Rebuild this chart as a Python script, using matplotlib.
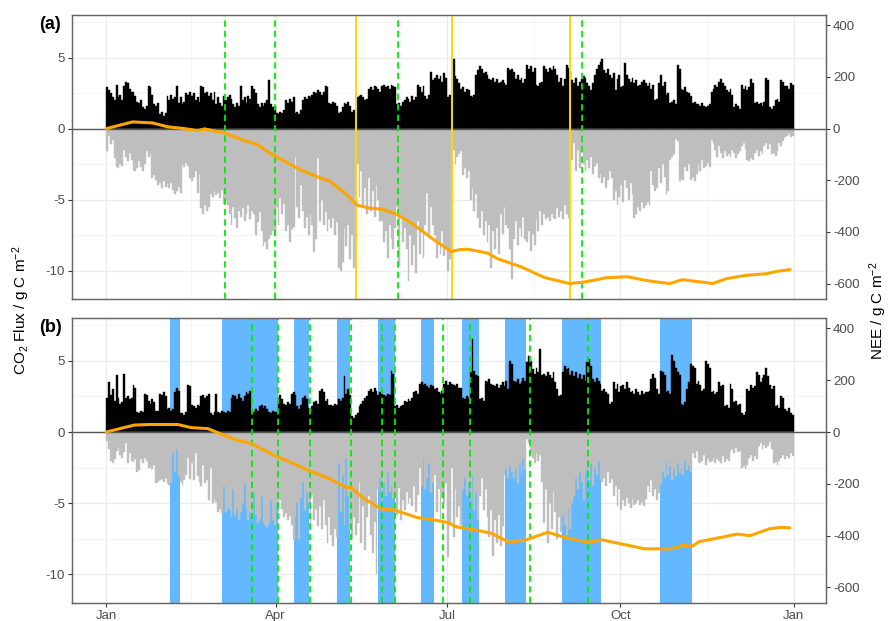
import numpy as np
import matplotlib.pyplot as plt

plt.rcParams['font.family'] = ['Liberation Sans', 'DejaVu Sans']
plt.rcParams['mathtext.default'] = 'regular'
plt.rcParams['axes.unicode_minus'] = False

# daily fluxes (g C m-2), day of year 0..364
resp_a = [
    2.9, 2.7, 2.5, 2.2, 2.0, 3.1, 2.2, 2.4, 2.0, 3.0, 3.3, 3.2, 2.8, 2.6, 2.6, 2.3, 1.9, 1.8, 2.0, 1.5,
    1.4, 1.6, 3.0, 2.9, 2.4, 1.7, 1.6, 1.8, 1.0, 1.2, 0.9, 1.1, 2.3, 2.0, 2.4, 2.1, 2.2, 3.0, 1.8, 2.2,
    1.7, 1.9, 2.5, 2.4, 2.6, 2.3, 2.5, 2.0, 2.2, 1.9, 3.0, 2.9, 2.5, 2.6, 2.3, 2.5, 2.0, 2.6, 1.7, 2.2,
    1.8, 1.6, 2.3, 2.0, 2.2, 2.4, 2.1, 1.7, 1.5, 1.8, 1.6, 3.0, 2.0, 2.2, 1.8, 2.3, 2.1, 3.0, 2.8, 2.5,
    1.7, 1.5, 1.8, 1.6, 1.8, 2.0, 3.4, 1.7, 1.5, 1.6,
    1.1, 1.0, 1.2, 1.1, 1.3, 2.0, 1.8, 2.1, 1.9, 2.2, 1.1, 1.2, 1.0, 1.3, 2.0, 2.2, 2.1, 2.3, 2.2, 2.4,
    2.6, 2.5, 2.7, 2.6, 2.4, 2.6, 3.0, 2.9, 1.8, 1.7, 1.9, 1.8, 1.6, 1.1, 1.2, 1.5, 1.8, 1.7, 1.9, 1.6,
    1.2, 1.3, 1.1, 2.2, 2.3, 2.4, 2.2, 2.0, 2.1, 2.8, 2.9, 2.7, 3.0, 2.9, 2.8, 2.6, 3.0, 3.1, 2.9, 3.0,
    2.8, 3.1, 3.0, 2.9, 1.7, 1.8, 1.6, 1.9, 2.0, 2.2, 2.1, 1.9, 2.3, 2.0, 2.2, 3.1, 2.9, 2.6, 3.0, 2.3,
    2.1, 2.4, 4.0, 3.4, 3.6, 3.8, 3.5, 3.7, 3.3, 3.9, 3.6, 2.2, 2.4, 2.1, 4.9, 3.7, 3.5, 3.2,
    2.8, 2.9, 2.6, 2.8, 2.7, 2.3, 2.2, 2.4, 3.8, 4.1, 4.4, 4.2, 3.9, 4.0, 3.8, 3.5, 3.4, 3.6, 3.3, 3.5,
    3.2, 3.3, 3.4, 3.2, 3.1, 4.3, 4.1, 4.2, 4.0, 3.5, 3.8, 3.4, 3.6, 3.2, 3.5, 4.5, 4.2, 4.4, 4.0, 4.3,
    3.1, 3.0, 3.2, 3.3, 4.4, 4.2, 4.0, 4.3, 4.1, 4.4, 4.2, 3.8, 3.3, 3.6, 3.0, 3.5, 4.5, 4.3, 4.0, 3.4,
    3.2, 3.6, 3.0, 3.3, 3.5, 3.7, 3.6, 3.2, 3.0, 2.7, 3.2, 3.8, 4.2, 4.5, 4.7, 4.9, 4.1, 3.9, 4.2, 3.8,
    3.6, 3.9, 2.7, 3.5, 3.8, 2.9, 3.0, 4.6, 3.8, 3.5, 3.3, 3.6, 3.2, 3.4, 3.0, 3.1, 3.3, 3.4, 3.2,
    3.0, 3.2, 2.8, 3.1, 2.0, 2.1, 3.2, 3.8, 3.0, 3.3, 2.4, 2.5, 1.8, 1.9, 2.0, 1.7, 4.5, 4.2, 2.8, 2.7,
    2.9, 2.6, 2.5, 2.3, 1.8, 1.9, 1.7, 1.7, 1.6, 1.8, 1.6, 1.5, 1.6, 1.7, 2.6, 2.8, 3.1, 2.9, 3.3, 3.5,
    3.2, 3.0, 2.7, 2.6, 2.8, 2.4, 1.5, 1.7, 1.6, 1.4, 3.1, 2.8, 3.0, 2.7, 2.9, 3.5, 3.2, 1.8, 1.9, 1.7,
    1.8, 1.6, 1.9, 3.6, 3.4, 1.5, 1.4, 1.6, 2.0, 2.1, 1.9, 3.4, 3.3, 3.0, 3.0, 2.8, 3.2, 3.1,
]
gpp_a = [
    -1.6, -0.5, -1.1, -0.8, -2.1, -2.7, -2.8, -2.5, -2.6, -1.5, -2.0, -2.3, -1.7, -2.2, -2.9, -3.0, -2.8, -2.3, -2.7, -3.0,
    -2.5, -1.6, -2.0, -1.8, -3.5, -3.3, -3.6, -4.0, -3.8, -4.2, -3.7, -4.1, -3.9, -4.2, -3.8, -4.3, -4.6, -4.4, -4.1, -4.5,
    -2.5, -2.7, -2.4, -2.6, -3.5, -3.7, -3.4, -3.0, -4.5, -3.2, -5.6, -6.0, -5.4, -5.8, -5.5, -4.6, -4.8, -4.4, -4.7, -4.5,
    -4.9, -4.3, -5.3, -5.1, -5.4, -6.0, -6.8, -5.5, -6.3, -7.0, -5.8, -6.2, -5.6, -6.5, -6.0, -5.4, -6.4, -5.8, -6.0, -7.5,
    -6.6, -5.9, -7.2, -8.3, -8.0, -8.5, -7.8, -7.5, -7.2, -7.4,
    -5.5, -6.8, -4.9, -6.0, -5.3, -7.2, -6.8, -8.0, -7.1, -6.9, -2.0, -5.5, -6.3, -4.0, -5.8, -7.0, -6.2, -7.5, -6.0, -6.8,
    -8.7, -7.8, -2.1, -6.5, -5.0, -6.8, -5.9, -7.2, -6.4, -7.0, -6.3, -7.5, -6.6, -9.8, -10.0, -9.4, -7.0, -8.3, -6.8, -9.2,
    -7.5, -9.8, -8.0, -2.5, -4.8, -3.0, -5.5, -4.2, -6.0, -3.5, -5.8, -4.4, -6.2, -4.0, -5.0, -6.5, -6.5, -8.0, -7.2, -9.1,
    -6.8, -7.8, -8.5, -7.0, -5.5, -9.6, -6.2, -8.0, -7.0, -8.5, -10.7, -7.5, -9.6, -8.2, -10.2, -6.5, -8.8, -7.3, -9.1, -6.8,
    -4.5, -7.4, -5.5, -6.8, -7.5, -9.1, -8.0, -8.8, -7.2, -9.0, -8.4, -10.0, -9.2, -8.5, -1.5, -2.5, -2.0, -1.8,
    -1.6, -3.3, -2.8, -3.5, -3.0, -5.0, -4.2, -5.8, -4.6, -6.3, -7.0, -5.8, -7.5, -6.5, -8.0, -6.8, -9.8, -7.2, -8.5, -7.0,
    -8.8, -6.0, -7.4, -5.5, -6.8, -7.0, -8.5, -10.6, -7.8, -6.5, -8.2, -7.0, -7.6, -6.2, -7.8, -8.0, -7.2, -8.6, -7.4, -8.2,
    -6.4, -7.2, -5.8, -6.8, -6.0, -6.4, -6.2, -6.5, -6.0, -6.3, -6.4, -5.6, -6.2, -5.8, -6.4, -5.4, -6.0, -6.3, -0.5, -2.2,
    -1.0, -3.0, -1.5, -2.8, -1.2, -2.5, -3.0, -2.2, -2.8, -2.0, -3.2, -2.6, -2.4, -3.5, -3.2, -3.8, -3.4, -4.2, -3.6, -3.0,
    -3.5, -5.0, -4.4, -5.4, -4.8, -4.0, -5.2, -3.6, -4.2, -5.0, -3.8, -4.6, -6.3, -6.0, -5.5, -5.8, -5.2, -5.6, -5.4,
    -5.2, -5.4, -3.0, -4.0, -4.4, -4.2, -2.8, -3.8, -2.5, -3.4, -4.6, -4.4, -2.2, -2.0, -1.8, -0.7, -0.9, -3.7, -3.5, -3.6,
    -2.7, -3.0, -2.5, -3.6, -3.4, -3.7, -3.2, -2.5, -3.0, -2.2, -2.8, -2.6, -2.4, -2.7, -0.8, -1.0, -1.5, -2.0, -1.2, -1.7,
    -2.1, -1.6, -1.9, -1.8, -2.0, -1.5, -1.7, -2.1, -1.8, -1.6, -1.2, -1.0, -1.4, -2.2, -2.3, -2.1, -2.2, -1.7, -1.5, -1.9,
    -1.6, -1.8, -1.2, -1.0, -1.4, -1.1, -1.8, -1.7, -1.9, -1.6, -1.0, -1.2, -0.9, -0.6, -0.5, -0.4, -0.6, -0.5,
]
resp_b = [
    2.4, 3.5, 2.6, 3.0, 2.2, 4.0, 2.4, 2.0, 2.1, 4.1, 2.4, 2.5, 2.3, 2.4, 3.3, 3.1, 1.4, 1.3, 1.5, 1.4,
    2.7, 2.6, 2.2, 2.0, 2.3, 2.1, 1.5, 1.5, 2.7, 2.6, 2.8, 2.5, 1.6, 1.7, 1.5, 1.6, 2.8, 3.1, 2.9, 1.3,
    1.3, 1.2, 1.4, 3.3, 3.2, 1.9, 1.8, 1.7, 1.9, 1.8, 2.5, 2.6, 2.4, 2.5, 2.7, 1.3, 1.2, 1.4, 2.7, 1.4,
    1.3, 1.5, 1.4, 1.3, 1.5, 1.4, 2.4, 2.6, 2.5, 2.3, 2.7, 2.4, 2.2, 2.5, 2.8, 2.7, 2.9, 1.5, 1.4, 1.6,
    1.5, 1.8, 1.9, 1.7, 1.8, 1.6, 1.4, 1.3, 1.5, 1.4,
    1.4, 2.4, 2.6, 2.3, 2.0, 1.9, 2.1, 2.0, 2.7, 2.8, 2.6, 1.8, 1.6, 1.9, 2.4, 2.5, 2.3, 1.7, 1.6, 1.8,
    2.1, 2.2, 2.0, 2.9, 3.0, 2.8, 2.2, 2.3, 1.9, 1.9, 1.8, 2.0, 1.9, 2.3, 2.2, 2.4, 3.9, 2.7, 3.0, 2.6,
    1.1, 1.0, 1.2, 1.3, 1.8, 2.0, 2.2, 2.4, 2.5, 2.9, 3.0, 2.8, 3.1, 2.9, 2.6, 2.8, 2.7, 2.6, 2.5, 2.7,
    2.6, 4.3, 4.1, 1.8, 1.9, 1.7, 1.8, 1.9, 2.2, 2.1, 2.3, 2.2, 2.4, 2.8, 2.9, 2.7, 3.4, 3.5, 3.3, 3.4,
    3.2, 3.1, 3.3, 3.2, 3.0, 3.1, 2.8, 2.7, 2.9, 3.4, 3.6, 3.3, 3.5, 3.4, 3.3, 3.2, 3.4, 3.1,
    3.1, 2.4, 2.3, 2.5, 2.4, 4.2, 6.5, 4.3, 4.0, 3.9, 2.3, 2.4, 2.2, 3.6, 3.5, 3.7, 3.4, 3.3, 3.2, 3.4,
    3.1, 3.3, 3.5, 3.2, 3.6, 3.0, 5.0, 4.8, 3.6, 3.5, 3.7, 3.4, 3.5, 3.8, 3.6, 4.9, 5.3, 5.0, 4.4, 4.1,
    4.5, 4.2, 5.8, 4.0, 4.1, 3.9, 4.2, 4.0, 3.8, 4.2, 3.5, 3.0, 2.5, 2.6, 4.2, 4.6, 4.4, 4.5, 4.0, 4.3,
    3.9, 4.2, 3.8, 4.1, 3.7, 4.0, 3.6, 4.9, 5.1, 4.6, 3.7, 3.5, 3.8, 3.6, 3.4, 2.9, 3.0, 2.8, 2.7, 2.0,
    2.1, 3.5, 3.0, 3.4, 2.8, 3.2, 3.3, 3.0, 3.5, 3.1, 2.8, 2.9, 2.7, 3.0, 2.8, 2.6, 2.9, 2.7, 2.8,
    2.8, 2.9, 3.7, 4.1, 3.8, 3.0, 2.7, 4.3, 4.2, 4.0, 2.8, 2.9, 2.7, 5.4, 5.0, 4.5, 4.2, 4.0, 2.0, 1.9,
    2.1, 3.0, 3.5, 4.8, 4.6, 4.5, 3.4, 3.6, 3.3, 2.9, 3.0, 5.0, 4.8, 4.5, 2.8, 2.9, 2.7, 2.8, 3.5, 3.2,
    3.3, 1.8, 1.9, 1.7, 3.4, 3.0, 2.1, 2.2, 1.9, 2.0, 1.3, 1.2, 1.4, 3.0, 2.9, 3.3, 3.1, 3.2, 4.2, 4.0,
    3.5, 3.8, 4.0, 4.5, 3.9, 3.3, 3.0, 3.2, 1.8, 1.9, 1.7, 2.5, 2.4, 1.6, 1.5, 1.7, 1.3, 1.2,
]
gpp_b = [
    -0.6, -1.2, -2.0, -2.2, -1.9, -1.3, -1.1, -1.6, -1.8, -1.4, -0.8, -2.2, -1.5, -2.0, -2.1, -1.9, -2.8, -2.7, -1.9, -2.2,
    -1.8, -2.0, -2.5, -2.4, -2.6, -2.3, -3.6, -3.5, -3.4, -3.3, -3.5, -3.2, -3.6, -3.7, -3.5, -1.5, -2.8, -1.2, -3.0, -3.5,
    -3.7, -3.4, -3.0, -1.8, -3.3, -2.2, -3.4, -1.5, -3.1, -3.5, -3.8, -2.3, -3.6, -3.4, -4.8, -2.5, -5.0, -4.7, -4.9, -5.6,
    -5.4, -5.7, -3.8, -5.6, -5.3, -5.5, -6.0, -4.0, -5.8, -5.4, -6.2, -5.6, -5.0, -3.6, -5.4, -6.2, -5.6, -6.0, -4.2, -5.8,
    -6.4, -6.1, -4.5, -6.3, -6.5, -6.7, -6.4, -4.8, -6.2, -6.5,
    -5.0, -5.6, -4.8, -5.4, -6.0, -5.7, -6.2, -5.9, -6.5, -7.6, -6.0, -5.0, -7.5, -4.6, -3.5, -5.5, -4.2, -5.0, -6.8, -4.4,
    -6.2, -5.4, -6.6, -5.2, -6.8, -4.8, -6.5, -7.8, -6.0, -7.2, -8.0, -6.8, -7.4, -2.2, -5.6, -3.0, -6.5, -1.8, -4.5, -6.8,
    -7.5, -6.0, -7.2, -6.4, -3.5, -7.8, -5.2, -8.3, -6.0, -4.5, -7.2, -8.5, -6.3, -10.0, -4.0, -3.2, -4.8, -3.6, -4.5, -2.8,
    -4.2, -3.8, -4.6, -4.5, -5.8, -3.9, -6.2, -4.8, -5.5, -4.2, -5.0, -4.6, -5.2, -3.8, -5.6, -4.4, -2.5, -3.8, -1.8, -4.0,
    -3.2, -2.2, -4.2, -3.5, -3.0, -5.6, -4.0, -6.2, -4.6, -5.0, -3.6, -8.8, -6.5, -2.5, -7.4, -4.0, -6.0, -5.2,
    -6.5, -4.0, -3.2, -4.4, -3.6, -4.8, -3.0, -5.5, -4.2, -6.2, -4.5, -3.2, -5.5, -4.0, -6.0, -7.4, -5.5, -8.7, -6.2, -7.8,
    -5.8, -8.0, -6.6, -3.0, -2.6, -3.2, -2.4, -2.8, -3.2, -2.5, -3.6, -2.2, -2.9, -1.8, -2.6, -0.5, -0.8, -1.5, -1.8, -2.2,
    -1.5, -2.0, -1.6, -3.5, -6.4, -4.0, -7.8, -5.0, -6.8, -4.2, -5.6, -7.5, -6.0, -7.0, -5.8, -6.5, -7.2, -5.4, -6.8, -5.0,
    -4.5, -3.2, -4.0, -2.8, -3.5, -4.8, -3.0, -2.6, -3.4, -2.2, -3.8, -2.5, -3.0, -2.0, -3.4, -3.5, -3.2, -3.8, -2.8, -3.6,
    -3.3, -4.5, -3.8, -5.2, -4.0, -5.5, -4.8, -5.2, -4.6, -5.0, -5.3, -4.7, -5.1, -5.0, -4.8, -5.1, -4.9, -5.2, -4.7,
    -3.8, -4.2, -3.4, -4.5, -4.0, -4.8, -4.3, -3.6, -2.8, -3.2, -2.0, -3.0, -2.4, -3.4, -2.6, -3.1, -2.2, -2.9, -2.5, -3.0,
    -2.0, -2.7, -2.3, -2.8, -1.5, -1.8, -1.3, -2.1, -2.2, -2.0, -1.6, -2.3, -1.9, -2.1, -2.0, -1.8, -2.2, -1.9, -2.0, -2.2,
    -1.7, -2.1, -1.9, -2.0, -1.3, -1.2, -1.5, -1.1, -1.4, -1.3, -2.5, -2.4, -2.6, -2.3, -1.8, -1.6, -2.0, -1.7, -1.9, -1.0,
    -0.8, -1.2, -0.9, -1.1, -1.0, -0.7, -1.2, -2.2, -2.1, -2.3, -2.0, -1.8, -1.6, -1.9, -1.7, -1.8, -1.5, -1.7,
]

# cumulative NEE (g C m-2)
cum_days_a = [0, 14, 24.6, 32.6, 41.6, 48.5, 52.2, 62.8, 71.7, 80.3, 86.7, 102.6, 113.3, 118.6, 127.5,
              133.1, 139.8, 146.7, 154.0, 162.7, 173.3, 183.2, 187.6, 191.9, 202.5, 207.8, 220.5, 232.8,
              246.0, 254.0, 266.2, 276.9, 285.9, 292.3, 299.2, 306.1, 318.8, 322.0, 329.5, 340.1, 350.7,
              356.0, 363.2]
cum_a = [0, 26, 22, 7, 0, -8, -1, -17, -42, -62, -94, -158, -190, -203, -254, -296, -308, -312, -331,
         -369, -427, -476, -469, -467, -482, -504, -536, -577, -600, -594, -577, -574, -587, -594, -600,
         -585, -597, -600, -581, -568, -562, -553, -546]
cum_days_b = [0, 15, 24, 38, 45, 54, 59, 68, 77, 84, 89, 97, 108, 119, 127.5, 130, 136, 146, 153, 165,
              173, 181, 186, 196, 204.5, 214, 223, 234.5, 243, 256, 263, 286, 300, 306, 311, 315, 327,
              335, 342, 352, 358, 363]
cum_b = [0, 27, 29, 29, 17, 13, -2, -28, -45, -70, -90, -114, -150, -182, -214, -214, -253, -297, -301,
         -330, -338, -349, -366, -378, -391, -426, -416, -387, -406, -426, -416, -451, -451, -438, -441,
         -423, -406, -394, -400, -374, -368, -370]

# event markers (day of year)
green_a = [62.8, 89.6, 154.9, 252.8]
gold_a = [132.6, 183.4, 246.3]
green_b = [77.5, 91.1, 108.1, 130.1, 146.3, 153.1, 179.1, 193.1, 224.8, 255.8]
span_start_b = [33.6, 61.6, 99.5, 122.3, 144.4, 167.3, 189.1, 211.9, 241.8, 294.0]
span_end_b = [39.3, 91.0, 107.5, 129.4, 153.1, 174.0, 197.7, 222.7, 262.9, 311.3]

month_ticks = [0, 90, 181, 273, 365]
month_labels = ['Jan', 'Apr', 'Jul', 'Oct', 'Jan']

SCALE = 55
tick_col = '#4D4D4D'


def draw_panel(ax, resp, gpp, cdays, cvals, show_x):
    d1 = np.arange(len(resp))
    d2 = np.arange(len(gpp))
    ax.bar(d1, resp, width=1.0, align='edge', color='black', edgecolor='black', linewidth=0.3, zorder=2)
    ax.bar(d2, gpp, width=1.0, align='edge', color='#BEBEBE', edgecolor='#BEBEBE', linewidth=0.3, zorder=2)
    ax.axhline(0, color='#555555', lw=1.0, zorder=3)

    ax.set_xlim(-18.2, 382.2)
    ax.set_ylim(-12, 8)
    ax.set_yticks([-10, -5, 0, 5])
    ax.set_yticks([-7.5, -2.5, 2.5, 7.5], minor=True)
    ax.set_xticks(month_ticks)
    ax.set_xticks([45, 135.5, 227, 319], minor=True)
    ax.grid(which='major', color='#EBEBEB', lw=0.9)
    ax.grid(which='minor', color='#F3F3F3', lw=0.6)
    ax.set_axisbelow(True)
    ax.tick_params(axis='y', which='major', colors='#333333', labelcolor=tick_col,
                   labelsize=9.5, length=3, pad=2)
    ax.tick_params(which='minor', length=0)
    if show_x:
        ax.set_xticklabels(month_labels)
        ax.tick_params(axis='x', which='major', colors='#333333', labelcolor=tick_col,
                       labelsize=9.5, length=3, pad=2)
    else:
        ax.tick_params(axis='x', which='major', length=0, labelbottom=False)
    for s in ax.spines.values():
        s.set_color('#666666')
        s.set_linewidth(0.9)

    tw = ax.twinx()
    tw.plot(cdays, cvals, color='#FFA500', lw=2.2, solid_capstyle='round', zorder=4)
    tw.set_ylim(-12 * SCALE, 8 * SCALE)
    tw.set_yticks([-600, -400, -200, 0, 200, 400])
    tw.tick_params(axis='y', colors='#333333', labelcolor=tick_col, labelsize=9.5, length=3, pad=2)
    for s in tw.spines.values():
        s.set_color('#666666')
        s.set_linewidth(0.9)
    return tw


fig = plt.figure(figsize=(8.93, 6.21), dpi=100)
ax_a = fig.add_axes([0.0806, 0.5185, 0.8443, 0.4573])
ax_b = fig.add_axes([0.0806, 0.029, 0.8443, 0.4589])

draw_panel(ax_a, resp_a, gpp_a, cum_days_a, cum_a, False)
for d in green_a:
    ax_a.axvline(d, color='#00EE00', lw=1.3, linestyle=(0, (3.5, 2.3)), zorder=3.5)
for d in gold_a:
    ax_a.axvline(d, color='#FFD700', lw=1.4, zorder=3.5)

for s0, s1 in zip(span_start_b, span_end_b):
    ax_b.axvspan(s0, s1, color='#63B8FF', lw=0, zorder=1)
draw_panel(ax_b, resp_b, gpp_b, cum_days_b, cum_b, True)
for d in green_b:
    ax_b.axvline(d, color='#00EE00', lw=1.3, linestyle=(0, (3.5, 2.3)), zorder=3.5)

fig.text(0.044, 0.960, '(a)', fontsize=13, fontweight='bold', va='center', ha='left')
fig.text(0.044, 0.473, '(b)', fontsize=13, fontweight='bold', va='center', ha='left')
fig.text(0.024, 0.5, r'CO$_2$ Flux / g C m$^{-2}$', rotation=90, fontsize=11,
         va='center', ha='center')
fig.text(0.983, 0.5, r'NEE / g C m$^{-2}$', rotation=90, fontsize=11,
         va='center', ha='center')

fig.savefig('out.png', dpi=100)
